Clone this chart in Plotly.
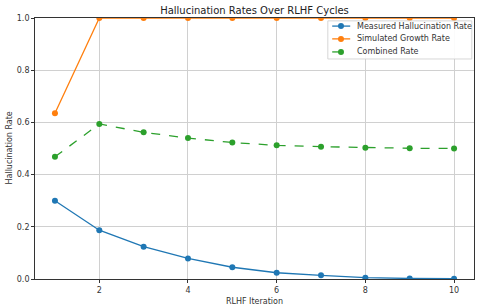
import plotly.graph_objects as go

iterations = [1, 2, 3, 4, 5, 6, 7, 8, 9, 10]
measured = [0.300, 0.187, 0.124, 0.079, 0.045, 0.024, 0.014, 0.005, 0.002, 0.001]
simulated = [0.635, 1.0, 1.0, 1.0, 1.0, 1.0, 1.0, 1.0, 1.0, 1.0]
combined = [0.468, 0.594, 0.562, 0.540, 0.523, 0.512, 0.507, 0.503, 0.501, 0.500]

series_names = ["Measured Hallucination Rate", "Simulated Growth Rate", "Combined Rate"]
series_colors = ["#1f77b4", "#ff7f0e", "#2ca02c"]
series_dash = ["solid", "solid", "dash"]

x_ticks = [2, 4, 6, 8, 10]
y_ticks = [0.0, 0.2, 0.4, 0.6, 0.8, 1.0]

font = "DejaVu Sans"
fig = go.Figure()
for name, vals, col, dash in zip(series_names, [measured, simulated, combined], series_colors, series_dash):
    fig.add_trace(go.Scatter(x=iterations, y=vals, mode="lines+markers", name=name,
                             line=dict(color=col, width=1.3, dash=dash),
                             marker=dict(size=6, color=col), showlegend=False))

axis_common = dict(showline=True, linecolor="#333", linewidth=0.8, mirror=True,
                   showgrid=True, gridcolor="#d0d0d0", gridwidth=0.8, zeroline=False,
                   ticks="outside", ticklen=3, tickcolor="#333", automargin=False,
                   tickfont=dict(family=font, size=8, color="#333"))

# manual legend (matplotlib-like compact layout), in paper coordinates
shapes = [dict(type="rect", xref="paper", yref="paper", x0=0.667, x1=0.995, y0=0.843, y1=0.989,
               fillcolor="rgba(255,255,255,0.9)", line=dict(color="#cccccc", width=0.8), layer="above")]
annotations = [dict(xref="paper", yref="paper", x=0, y=0.5, xshift=-26, xanchor="center", yanchor="middle",
                    textangle=-90, text="Hallucination Rate", showarrow=False,
                    font=dict(family=font, size=8, color="#333"))]
row_y = [0.969, 0.920, 0.870]
for name, col, dash, yy in zip(series_names, series_colors, series_dash, row_y):
    shapes.append(dict(type="line", xref="paper", yref="paper", x0=0.677, x1=0.718, y0=yy, y1=yy,
                       line=dict(color=col, width=1.3, dash=dash), layer="above"))
    shapes.append(dict(type="circle", xref="paper", yref="paper", xsizemode="pixel", ysizemode="pixel",
                       xanchor=0.697, yanchor=yy, x0=-3, x1=3, y0=-3, y1=3,
                       fillcolor=col, line=dict(color=col, width=0), layer="above"))
    annotations.append(dict(xref="paper", yref="paper", x=0.729, y=yy, xanchor="left", yanchor="middle",
                            text=name, showarrow=False, font=dict(family=font, size=8, color="#333")))

fig.update_layout(
    width=480, height=307,
    paper_bgcolor="white", plot_bgcolor="white",
    margin=dict(l=35, r=6, t=18, b=28),
    title=dict(text="Hallucination Rates Over RLHF Cycles", xref="paper", x=0.5, xanchor="center",
               yref="container", y=0.966, yanchor="middle",
               font=dict(family=font, size=10, color="#222")),
    xaxis=dict(range=[0.55, 10.45], tickvals=x_ticks,
               title=dict(text="RLHF Iteration", font=dict(family=font, size=8, color="#333"), standoff=4),
               **axis_common),
    yaxis=dict(range=[0, 1.0], tickvals=y_ticks, tickformat=".1f", **axis_common),
    shapes=shapes,
    annotations=annotations,
    showlegend=False,
)

post = (
    "var h=document.documentElement, b=document.body;"
    "h.style.margin='0';h.style.padding='0';h.style.overflow='hidden';"
    "b.style.margin='0';b.style.padding='0';b.style.overflow='hidden';"
)
fig.write_html("out.html", config={"displayModeBar": False}, post_script=post)
